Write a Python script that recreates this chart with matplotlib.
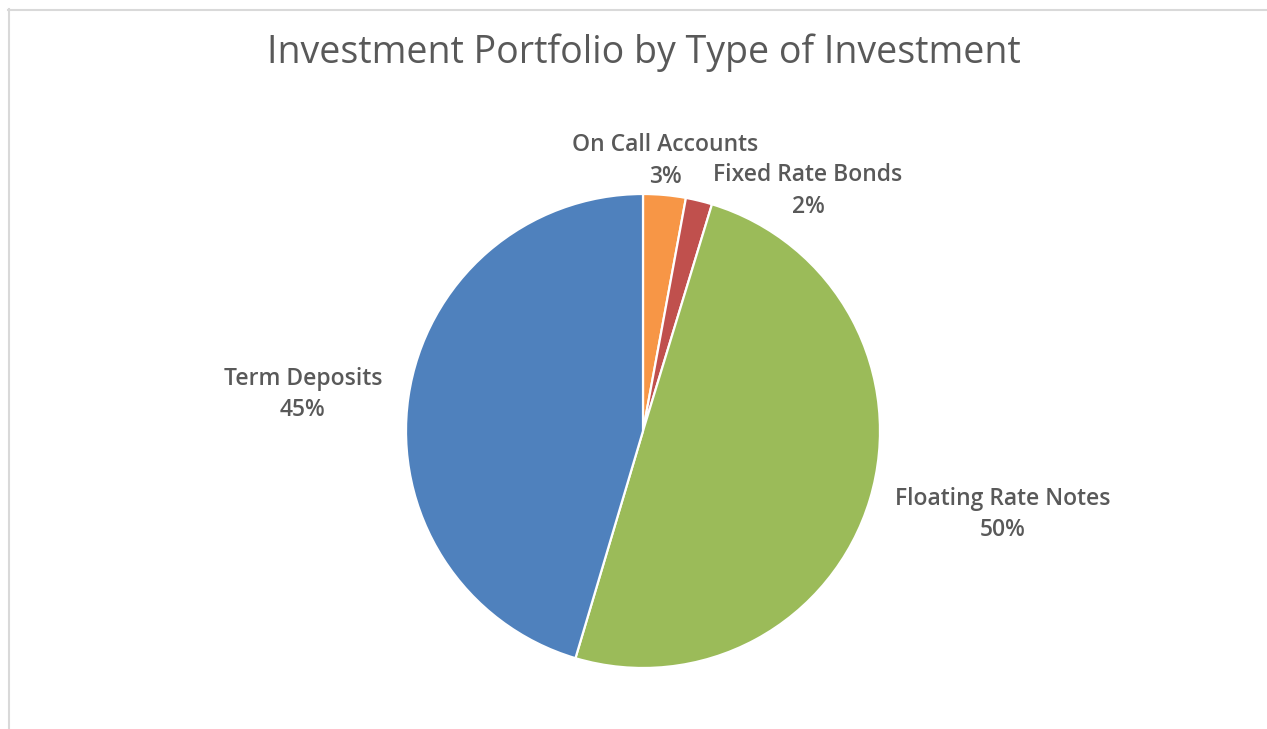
import matplotlib
matplotlib.use("Agg")
import matplotlib.pyplot as plt
from matplotlib.lines import Line2D

categories = ["On Call Accounts", "Fixed Rate Bonds", "Floating Rate Notes", "Term Deposits"]
values = [2.9, 1.8, 49.9, 45.4]
pct_labels = ["3%", "2%", "50%", "45%"]
colors = ["#F79646", "#C0504D", "#9BBB59", "#4F81BD"]
title = "Investment Portfolio by Type of Investment"

W, H = 1267, 729
cx, cy, R = 643, 431, 237  # pixel centre / radius (from top)

plt.rcParams['font.family'] = ['Open Sans', 'DejaVu Sans']
fig = plt.figure(figsize=(W / 100, H / 100), dpi=100)
ax = fig.add_axes([0, 0, 1, 1])
ax.axis('off')

ax.pie(values, colors=colors, startangle=90, counterclock=False,
       radius=1.0, center=(0, 0),
       wedgeprops=dict(edgecolor='white', linewidth=1.6))
ax.set_aspect('equal', adjustable='datalim')
ax.set_xlim(-cx / R, (W - cx) / R)
ax.set_ylim(-(H - cy) / R, cy / R)

# label layout: centre x, baseline of name line, baseline of percent line (pixels from top)
label_px = [(665, 151, 183), (808, 181, 213), (1003, 505, 536), (303, 385, 416)]
for name, pct, (px, by1, by2) in zip(categories, pct_labels, label_px):
    for txt, by in ((name, by1), (pct, by2)):
        ax.text((px - cx) / R, (cy - by) / R, txt, ha='center', va='baseline',
                fontsize=16.5, color='#595959', fontweight='semibold')

fig.text(643.5 / W, 1 - 53 / H, title, ha='center', va='center', fontsize=27,
         color='#595959', fontweight='medium')

# chart border (left and top visible)
fig.add_artist(Line2D([8.5 / W, 8.5 / W], [0, 1 - 9 / H], transform=fig.transFigure,
                      color='#D9D9D9', linewidth=1.5))
fig.add_artist(Line2D([8 / W, 1], [1 - 9.5 / H, 1 - 9.5 / H], transform=fig.transFigure,
                      color='#D9D9D9', linewidth=1.5))

fig.savefig("out.png", dpi=100, facecolor='white')
